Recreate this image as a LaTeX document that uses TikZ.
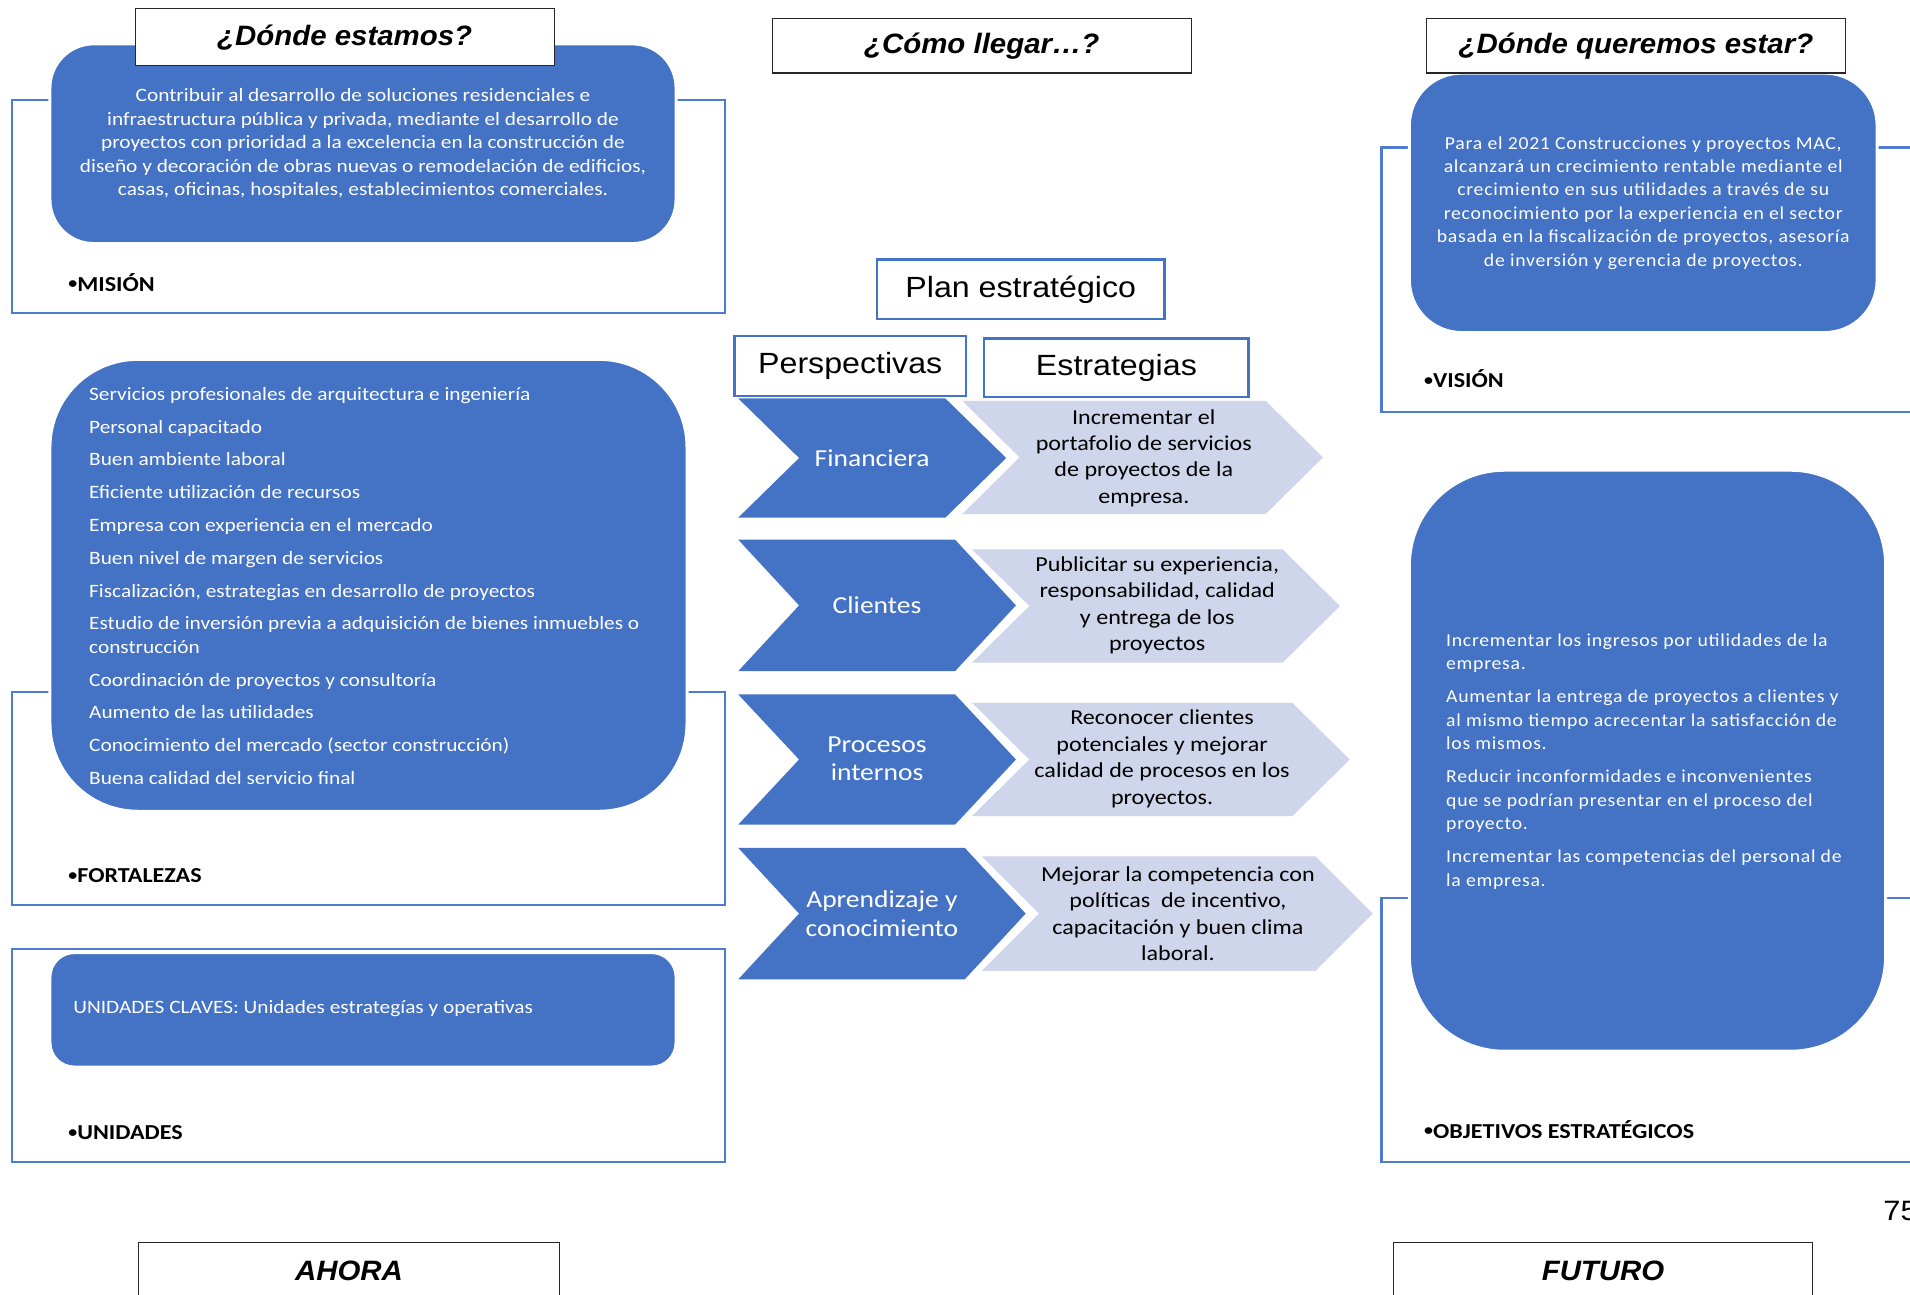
\documentclass[tikz,border=0pt]{standalone}
\usepackage{fontspec}
\setmainfont{Carlito}[FakeStretch=1.13]
\newfontfamily\arialf{Liberation Sans}[FakeStretch=1.1]
\newfontfamily\arialt{Liberation Sans}[FakeStretch=1.05]
\newfontfamily\widef{Carlito}[FakeStretch=1.08, LetterSpace=4]
\definecolor{mblue}{HTML}{4472C4}
\definecolor{fblue}{HTML}{4F7BD2}
\definecolor{lchev}{HTML}{CFD5EA}

% small bullet in front of the section tags
\newcommand\tagdot{\raisebox{0.12em}{\fontsize{13}{13}\selectfont•}}

% chevron: style, left x, top y, tip x, bottom y, depth
\newcommand\chevpath[6]{%
  \fill[#1] (#2,#3) -- ({#4-#6},#3) -- (#4,{(#3+#5)/2}) -- ({#4-#6},#5)
    -- (#2,#5) -- ({#2+#6},{(#3+#5)/2}) -- cycle;}

\begin{document}
\begin{tikzpicture}[x=1pt,y=-1pt,
  frame/.style={draw=fblue, line width=2pt},
  bluebox/.style={fill=mblue, draw=white, line width=2.5pt, inner sep=0pt},
  titlebox/.style={draw=black!85, line width=1pt, fill=white, inner sep=0pt,
    font=\arialt\bfseries\itshape\fontsize{23}{28}\selectfont},
  headbox/.style={draw=mblue, line width=2pt, fill=white, inner sep=0pt,
    font=\arialf\fontsize{24}{29}\selectfont},
  tag/.style={anchor=west, font=\bfseries\fontsize{17.5}{20}\selectfont, inner sep=0pt},
  whitetxt/.style={text=white, font=\fontsize{15.5}{19.3}\selectfont, inner sep=0pt},
  widetxt/.style={text=white, font=\widef\fontsize{15}{19.2}\selectfont, inner sep=0pt},
  darkchev/.style={fill=mblue},
  lightchev/.style={fill=lchev},
  chevlabel/.style={text=white, font=\fontsize{20}{23.5}\selectfont, align=center, inner sep=0pt},
  stratlabel/.style={text=black, font=\fontsize{17.5}{21.7}\selectfont, align=center, inner sep=0pt},
]
\useasboundingbox (0,0) rectangle (1568,1063);
\fill[white] (0,0) rectangle (1568,1063);

% ---------- left column: current state ----------
\draw[frame] (10,82) rectangle (595,257);
\draw[frame] (10,568) rectangle (595,743);
\draw[frame] (10,779) rectangle (595,954);

\node[bluebox, rounded corners=36, minimum width=514, minimum height=164] (mision) at (298,118) {};
\node[whitetxt, align=center] (lmision) at (298,118)
  {Contribuir al desarrollo de soluciones residenciales e\\
   infraestructura pública y privada, mediante el desarrollo de\\
   proyectos con prioridad a la excelencia en la construcción de\\
   diseño y decoración de obras nuevas o remodelación de edificios,\\
   casas, oficinas, hospitales, establecimientos comerciales.};
\node[tag] (tmision) at (56,232) {\tagdot MISIÓN};

\node[bluebox, rounded corners=72, minimum width=523, minimum height=371] (fort) at (302.5,480.5) {};
\node[whitetxt, align=left, anchor=west] (lfort) at (73,481)
  {Servicios profesionales de arquitectura e ingeniería\\[7.6pt]
   Personal capacitado\\[7.6pt]
   Buen ambiente laboral\\[7.6pt]
   Eficiente utilización de recursos\\[7.6pt]
   Empresa con experiencia en el mercado\\[7.6pt]
   Buen nivel de margen de servicios\\[7.6pt]
   Fiscalización, estrategias en desarrollo de proyectos\\[7.6pt]
   Estudio de inversión previa a adquisición de bienes inmuebles o\\
   construcción\\[7.6pt]
   Coordinación de proyectos y consultoría\\[7.6pt]
   Aumento de las utilidades\\[7.6pt]
   Conocimiento del mercado (sector construcción)\\[7.6pt]
   Buena calidad del servicio final};
\node[tag] (tfort) at (56,719) {\tagdot FORTALEZAS};

\node[bluebox, rounded corners=20, minimum width=514, minimum height=94] (unid) at (298,829) {};
\node[whitetxt, anchor=west] (lunid) at (60,828) {UNIDADES CLAVES: Unidades estrategías y operativas};
\node[tag] (tunid) at (56,930) {\tagdot UNIDADES};

\node[titlebox, minimum width=344, minimum height=47] (hdonde) at (283,30.5) {¿Dónde estamos?};
\node[titlebox, minimum width=345, minimum height=47] (ahora) at (286.5,1043.5) {AHORA};

% ---------- centre: strategic plan ----------
\node[titlebox, minimum width=344, minimum height=45] (hcomo) at (806,37.5) {¿Cómo llegar…?};
\node[headbox, minimum width=236, minimum height=49] (plan) at (838,237.5) {Plan estratégico};
\node[headbox, minimum width=190, minimum height=49] (persp) at (698,300.5) {Perspectivas};
\node[headbox, minimum width=217, minimum height=48] (estr) at (916.5,302) {Estrategias};

\chevpath{darkchev}{606}{327}{826}{425}{50}
\chevpath{darkchev}{606}{443}{834}{551}{50}
\chevpath{darkchev}{606}{570}{834}{677}{50}
\chevpath{darkchev}{606}{696}{842}{804}{50}
\chevpath{lightchev}{790}{329}{1086}{422}{47}
\chevpath{lightchev}{798}{451}{1100}{544}{47}
\chevpath{lightchev}{798}{577}{1108}{670}{47}
\chevpath{lightchev}{806}{703}{1127}{797}{47}

\node[chevlabel] (pfin) at (716,376) {Financiera};
\node[chevlabel] (pcli) at (720,497) {Clientes};
\node[chevlabel] (ppro) at (720,623) {Procesos\\internos};
\node[chevlabel] (papr) at (724,750) {Aprendizaje y\\conocimiento};

\node[stratlabel] (sfin) at (939,376) {Incrementar el\\portafolio de servicios\\de proyectos de la\\empresa.};
\node[stratlabel] (scli) at (950,497) {Publicitar su experiencia,\\responsabilidad, calidad\\y entrega de los\\proyectos};
\node[stratlabel] (spro) at (954,623) {Reconocer clientes\\potenciales y mejorar\\calidad de procesos en los\\proyectos.};
\node[stratlabel] (sapr) at (967,750) {Mejorar la competencia con\\políticas~ de incentivo,\\capacitación y buen clima\\laboral.};

% ---------- right column: desired state ----------
\draw[frame] (1134,121) rectangle (1600,338);
\draw[frame] (1134,737) rectangle (1600,954);

\node[bluebox, rounded corners=43, minimum width=384, minimum height=213] (vision) at (1349,166.5) {};
\node[widetxt, align=center] (lvision) at (1349,166.5)
  {Para el 2021 Construcciones y proyectos MAC,\\
   alcanzará un crecimiento rentable mediante el\\
   crecimiento en sus utilidades a través de su\\
   reconocimiento por la experiencia en el sector\\
   basada en la fiscalización de proyectos, asesoría\\
   de inversión y gerencia de proyectos.};
\node[tag] (tvision) at (1169,311) {\tagdot VISIÓN};

\node[bluebox, rounded corners=78, minimum width=391, minimum height=477] (obj) at (1352.5,624.5) {};
\node[widetxt, align=left, anchor=west] (lobj) at (1187,625)
  {Incrementar los ingresos por utilidades de la\\
   empresa.\\[8pt]
   Aumentar la entrega de proyectos a clientes y\\
   al mismo tiempo acrecentar la satisfacción de\\
   los mismos.\\[8pt]
   Reducir inconformidades e inconvenientes\\
   que se podrían presentar en el proceso del\\
   proyecto.\\[8pt]
   Incrementar las competencias del personal de\\
   la empresa.};
\node[tag] (tobj) at (1169,927) {\tagdot OBJETIVOS ESTRATÉGICOS};

\node[titlebox, minimum width=344, minimum height=45] (hquer) at (1343,37.5) {¿Dónde queremos estar?};
\node[titlebox, minimum width=344, minimum height=47] (futuro) at (1316,1043.5) {FUTURO};

\node[anchor=west, inner sep=0pt, font=\arialf\fontsize{23}{28}\selectfont] (pag) at (1546,994) {75};
\end{tikzpicture}
\end{document}
